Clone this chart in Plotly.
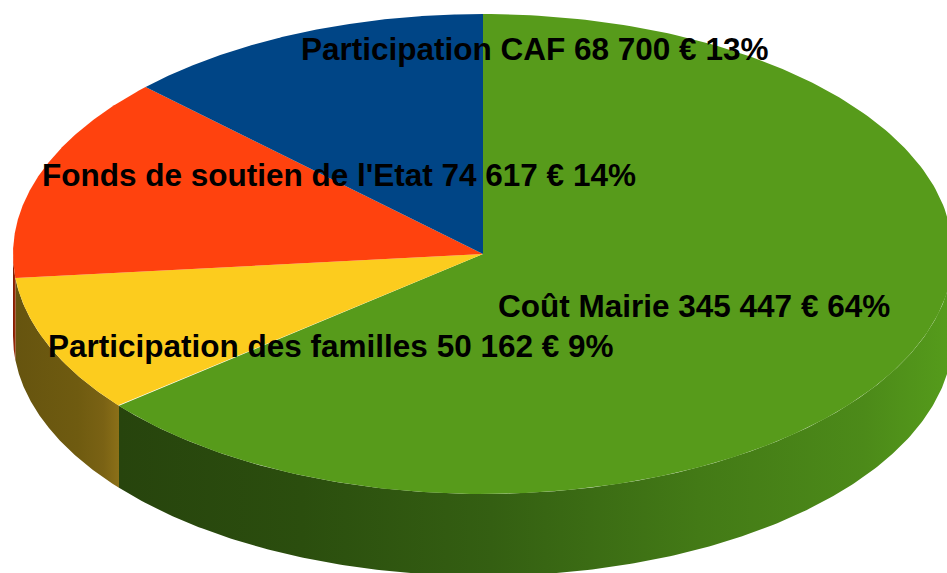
import numpy as np
import plotly.graph_objects as go

# Data, clockwise from 12 o'clock
labels = ["Coût Mairie", "Participation des familles", "Fonds de soutien de l'Etat", "Participation CAF"]
values = [345447, 50162, 74617, 68700]
amounts = ["345 447 €", "50 162 €", "74 617 €", "68 700 €"]
percents = ["64%", "9%", "14%", "13%"]

# Styles
top_colors = ["#579b1b", "#fccc1e", "#ff420e", "#004586"]
wall_stops = [
    [[0, "#27440d"], [0.22, "#2b4e0e"], [0.45, "#345f12"], [0.7, "#437a16"], [0.9, "#4c8a19"], [1, "#559b1b"]],
    [[0, "#66540f"], [0.6, "#6f5b10"], [0.85, "#7a6214"], [1, "#8b7018"]],
    [[0, "#7a1c04"], [1, "#a82a08"]],
    [[0, "#00264a"], [1, "#00264a"]],
]
label_xy = [(694, 306), (331, 346), (338.5, 175), (534.5, 49)]

# Projection of the pie disc onto the page
CX, CY, RX, RY, DEPTH = 483, 254, 470, 240, 82
FONT_SIZE = 31.5

fractions = np.cumsum([0] + values) / sum(values)


def rim(start, stop, dy=0.0, n=240):
    t = 2 * np.pi * np.linspace(start, stop, n)
    return CX + RX * np.sin(t), CY - RY * np.cos(t) + dy


fig = go.Figure()

# Front walls (only the near half of the disc, from 3 to 9 o'clock)
for i in range(len(values)):
    a, b = max(fractions[i], 0.25), min(fractions[i + 1], 0.75)
    if b <= a:
        continue
    x1, y1 = rim(a, b)
    x2, y2 = rim(a, b, DEPTH)
    xs = np.r_[x1, x2[::-1], x1[0]]
    ys = np.r_[y1, y2[::-1], y1[0]]
    fig.add_trace(go.Scatter(
        x=xs, y=ys, mode="lines", line=dict(width=0), fill="toself",
        fillgradient=dict(type="horizontal", colorscale=wall_stops[i],
                          start=float(xs.min()), stop=float(min(xs.max(), 947))),
        hoverinfo="skip", showlegend=False,
    ))

# Top faces
for i in range(len(values)):
    x, y = rim(fractions[i], fractions[i + 1])
    fig.add_trace(go.Scatter(
        x=np.r_[CX, x, CX], y=np.r_[CY, y, CY], mode="lines",
        line=dict(width=0), fill="toself", fillcolor=top_colors[i],
        hoverinfo="skip", showlegend=False,
    ))

for i, (px, py) in enumerate(label_xy):
    fig.add_annotation(
        x=px, y=py, text=f"{labels[i]} {amounts[i]} {percents[i]}", showarrow=False,
        xanchor="center", yanchor="middle",
        font=dict(family="Liberation Sans", size=FONT_SIZE, color="#000000", weight="bold"),
    )

fig.update_layout(
    width=947, height=573, margin=dict(l=0, r=0, t=0, b=0),
    paper_bgcolor="#ffffff", plot_bgcolor="#ffffff", showlegend=False,
    xaxis=dict(range=[0, 947], visible=False, fixedrange=True),
    yaxis=dict(range=[573, 0], visible=False, fixedrange=True),
)
fig.write_html("out.html", config={"displayModeBar": False},
               post_script="document.body.style.margin='0';document.documentElement.style.overflow='hidden';")
